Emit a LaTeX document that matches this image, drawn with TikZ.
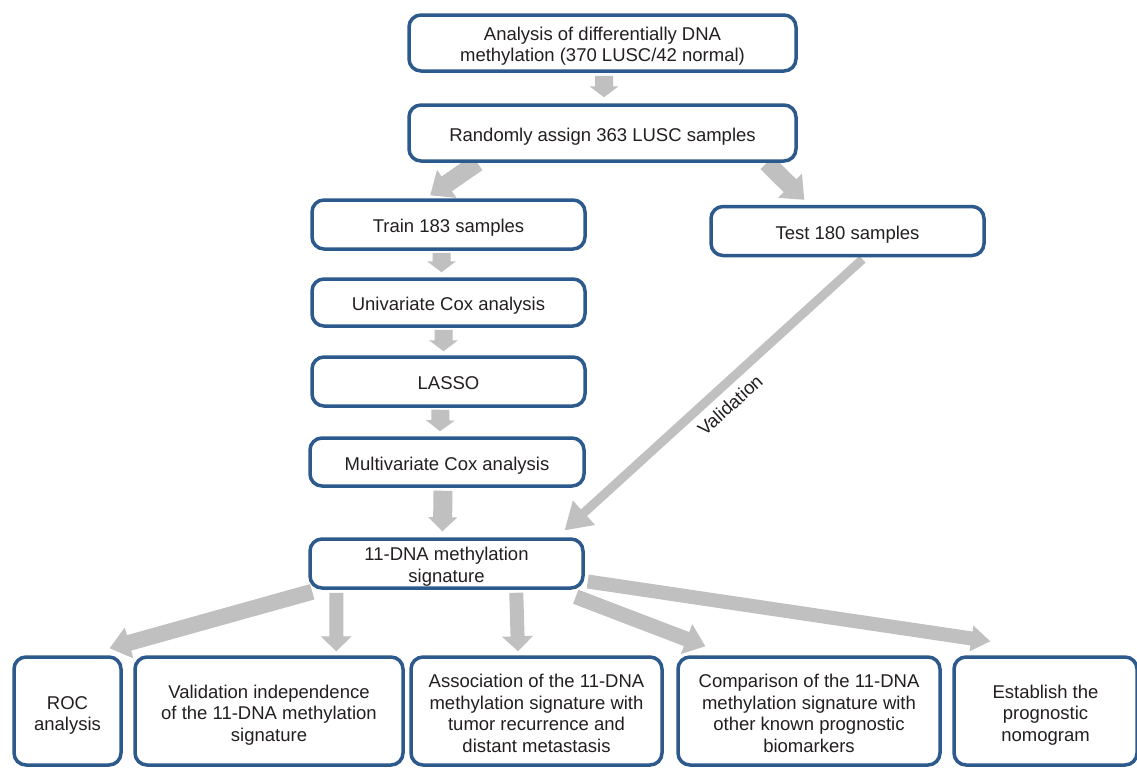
\documentclass[tikz,border=0pt]{standalone}
\usepackage{fontspec}
\setmainfont{Liberation Sans}
\usetikzlibrary{calc}
\definecolor{boxblue}{HTML}{2D5A8C}
\definecolor{arrowgray}{HTML}{C0C0C0}
\definecolor{txtcol}{HTML}{231F20}
\pgfdeclarelayer{bg}
\pgfsetlayers{bg,main}
% block arrow: start, end, shaft half width, head half width, head length
\newcommand\barrow[5]{%
  \coordinate (ba-h) at ($(#2)!#5pt!(#1)$);
  \fill[arrowgray] ($(#1)!#3pt!90:(#2)$) -- ($(ba-h)!#3pt!-90:(#1)$)
    -- ($(ba-h)!#4pt!-90:(#1)$) -- (#2) -- ($(ba-h)!#4pt!90:(#1)$)
    -- ($(ba-h)!#3pt!90:(#1)$) -- ($(#1)!#3pt!-90:(#2)$) -- cycle;}
\tikzset{
  flowbox/.style={draw=boxblue, line width=3.5pt, rounded corners=12pt, fill=white,
    text=txtcol, align=center, inner sep=2pt, text depth=0pt,
    font=\fontsize{18.5}{21.5}\selectfont},
  oneline/.style={text height=16pt},
  twoline/.style={text height=37pt},
  lbl/.style={text=txtcol, inner sep=0pt, font=\fontsize{18.5}{21.5}\selectfont}
}
\begin{document}
\begin{tikzpicture}[x=1pt,y=-1pt]
\useasboundingbox (0,0) rectangle (1137,769);
\begin{pgfonlayer}{bg}
\fill[white] (0,0) rectangle (1137,769);
\end{pgfonlayer}
% boxes
\node[flowbox, twoline, minimum width=387pt, minimum height=56pt] (b1) at (602.5,43)
  {Analysis of differentially DNA\\methylation (370 LUSC/42 normal)};
\node[flowbox, oneline, minimum width=387pt, minimum height=56pt] (b2) at (602.5,133)
  {Randomly assign 363 LUSC samples};
\node[flowbox, oneline, minimum width=273pt, minimum height=49pt] (train) at (448.5,224.5)
  {Train 183 samples};
\node[flowbox, oneline, minimum width=273pt, minimum height=49pt] (test) at (847.5,231)
  {Test 180 samples};
\node[flowbox, oneline, minimum width=273pt, minimum height=47pt] (univ) at (448.5,302.5)
  {Univariate Cox analysis};
\node[flowbox, oneline, minimum width=273pt, minimum height=49pt] (lasso) at (448.5,381.5)
  {LASSO};
\node[flowbox, oneline, minimum width=274pt, minimum height=48pt] (multi) at (447,462)
  {Multivariate Cox analysis};
\node[flowbox, twoline, minimum width=273pt, minimum height=49pt] (sig) at (446.5,563.5)
  {11-DNA methylation\\signature};
\node[flowbox, text height=39pt, minimum width=107pt, minimum height=108pt] (roc) at (67.5,711)
  {ROC\\analysis};
\node[flowbox, text height=60.5pt, minimum width=268pt, minimum height=108pt] (valid) at (269,711)
  {Validation independence\\of the 11-DNA methylation\\signature};
\node[flowbox, text height=82pt, minimum width=251pt, minimum height=108pt] (assoc) at (536.5,711)
  {Association of the 11-DNA\\methylation signature with\\tumor recurrence and\\distant metastasis};
\node[flowbox, text height=82pt, minimum width=262pt, minimum height=108pt] (comp) at (809,711)
  {Comparison of the 11-DNA\\methylation signature with\\other known prognostic\\biomarkers};
\node[flowbox, text height=60.5pt, minimum width=183pt, minimum height=108pt] (estab) at (1045.5,711)
  {Establish the\\prognostic\\nomogram};
% arrow end points
\coordinate (a1s) at ($(b1.south)+(1.5,3)$);
\coordinate (a1e) at ($(b2.north)+(1.5,-6)$);
\coordinate (a2s) at ($(b2.south west)+(70,0)$);
\coordinate (a2e) at ($(train.north west)+(120,-3)$);
\coordinate (a3s) at ($(b2.south east)+(-31,0)$);
\coordinate (a3e) at ($(test.north west)+(95,-5)$);
\coordinate (a4s) at ($(train.south)+(-7,2)$);
\coordinate (a4e) at ($(univ.north)+(-7,-5)$);
\coordinate (a5s) at ($(univ.south)+(-5,2)$);
\coordinate (a5e) at ($(lasso.north)+(-5,-4)$);
\coordinate (a6s) at ($(lasso.south)+(-8,2)$);
\coordinate (a6e) at ($(multi.north)+(-7,-5)$);
\coordinate (a7s) at ($(multi.south)+(-4,3)$);
\coordinate (a7e) at ($(sig.north)+(-4,-6)$);
\coordinate (a8s) at ($(test.south)+(15,2)$);
\coordinate (a8e) at ($(sig.north east)+(-20,-7)$);
\coordinate (a9s) at ($(sig.south west)+(4,2)$);
\coordinate (a9e) at ($(roc.north east)+(-13,-7)$);
\coordinate (a10s) at ($(sig.south west)+(28,3)$);
\coordinate (a10e) at ($(valid.north west)+(203,-4)$);
\coordinate (a11s) at ($(sig.south west)+(208,3)$);
\coordinate (a11e) at ($(assoc.north)+(-18.5,-4)$);
\coordinate (a12s) at ($(sig.south east)+(-9,7)$);
\coordinate (a12e) at ($(comp.north west)+(29,-9)$);
\coordinate (a13s) at ($(sig.east)+(3,18)$);
\coordinate (a13e) at ($(estab.north west)+(38,-14)$);
\begin{pgfonlayer}{bg}
\barrow{a1s}{a1e}{9}{14.5}{11}
\barrow{a2s}{a2e}{9}{17}{20}
\barrow{a3s}{a3e}{9}{17}{20}
\barrow{a4s}{a4e}{9}{14.5}{11}
\barrow{a5s}{a5e}{9}{14.5}{11}
\barrow{a6s}{a6e}{9}{14.5}{11}
\barrow{a7s}{a7e}{9.5}{14.5}{14}
\barrow{a8s}{a8e}{4.5}{16.5}{26}
\barrow{a9s}{a9e}{8}{16}{20}
\barrow{a10s}{a10e}{7}{15.5}{15}
\barrow{a11s}{a11e}{7}{15.5}{15}
\barrow{a12s}{a12e}{7.5}{16}{20}
\barrow{a13s}{a13e}{7}{13}{19}
\end{pgfonlayer}
\node[lbl, rotate=42] (vlab) at (730,405) {Validation};
\end{tikzpicture}
\end{document}
